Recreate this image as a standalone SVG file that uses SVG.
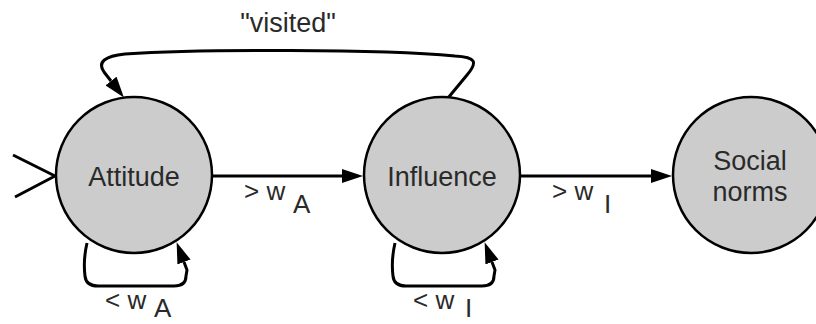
<svg xmlns="http://www.w3.org/2000/svg" width="816" height="324" viewBox="0 0 816 324">
  <style>
    .state { fill: #cccccc; stroke: #000; stroke-width: 2.5; }
    .name { font-family: "Liberation Sans", Arial, sans-serif; font-size: 27px; fill: #2a2a2a; text-anchor: middle; }
    .lbl { font-family: "Liberation Sans", Arial, sans-serif; font-size: 26px; fill: #2a2a2a; }
    .edge { fill: none; stroke: #000; stroke-width: 3; stroke-linejoin: round; }
  </style>
  <defs>
    <marker id="head" markerUnits="userSpaceOnUse" viewBox="0 0 21 14" markerWidth="21" markerHeight="14" refX="0" refY="7" orient="auto">
      <path d="M0,0 L21,7 L0,14 z" fill="#000"/>
    </marker>
  </defs>

  <!-- transitions -->
  <g id="connectors">
    <!-- start marker -->
    <path class="edge" d="M13,155 L55,176 L15,197"/>
    <!-- Attitude -> Influence -->
    <line class="edge" x1="212" y1="176" x2="342" y2="176" marker-end="url(#head)"/>
    <!-- Influence -> Social norms -->
    <line class="edge" x1="520" y1="176" x2="651" y2="176" marker-end="url(#head)"/>
    <!-- Attitude self loop -->
    <path class="edge" d="M87,243 C84,256 84,268 85,276 Q86,286 98,286 L174,286 Q186,286 186,276 L187,270 L184,262" marker-end="url(#head)"/>
    <!-- Influence self loop -->
    <path class="edge" d="M395,243 C392,256 392,268 393,276 Q394,286 406,286 L482,286 Q494,286 494,276 L495,270 L492,262" marker-end="url(#head)"/>
    <!-- Influence back to Attitude -->
    <path class="edge" d="M448,98 L467,75 C478,62 476,57 455,56 C380,49 200,49 125,54 C105,56 97,62 104,72 L111,81" marker-end="url(#head)"/>
  </g>

  <!-- edge labels -->
  <g id="labels">
    <text class="name" x="288" y="32">"visited"</text>
    <text class="lbl" x="244" y="200">&gt; w<tspan x="293" y="213">A</tspan></text>
    <text class="lbl" x="552" y="200">&gt; w<tspan x="604" y="213">I</tspan></text>
    <text class="lbl" x="105" y="309">&lt; w<tspan x="154" y="317">A</tspan></text>
    <text class="lbl" x="413" y="309">&lt; w<tspan x="465" y="317">I</tspan></text>
  </g>

  <g id="attitude">
    <circle class="state" cx="134" cy="175" r="78"/>
    <text class="name" x="134" y="186">Attitude</text>
  </g>
  <g id="influence">
    <circle class="state" cx="442" cy="175" r="78"/>
    <text class="name" x="442" y="186">Influence</text>
  </g>
  <g id="social-norms">
    <circle class="state" cx="751" cy="175" r="78"/>
    <text class="name" x="750" y="170">Social</text>
    <text class="name" x="750" y="201">norms</text>
  </g>
</svg>
